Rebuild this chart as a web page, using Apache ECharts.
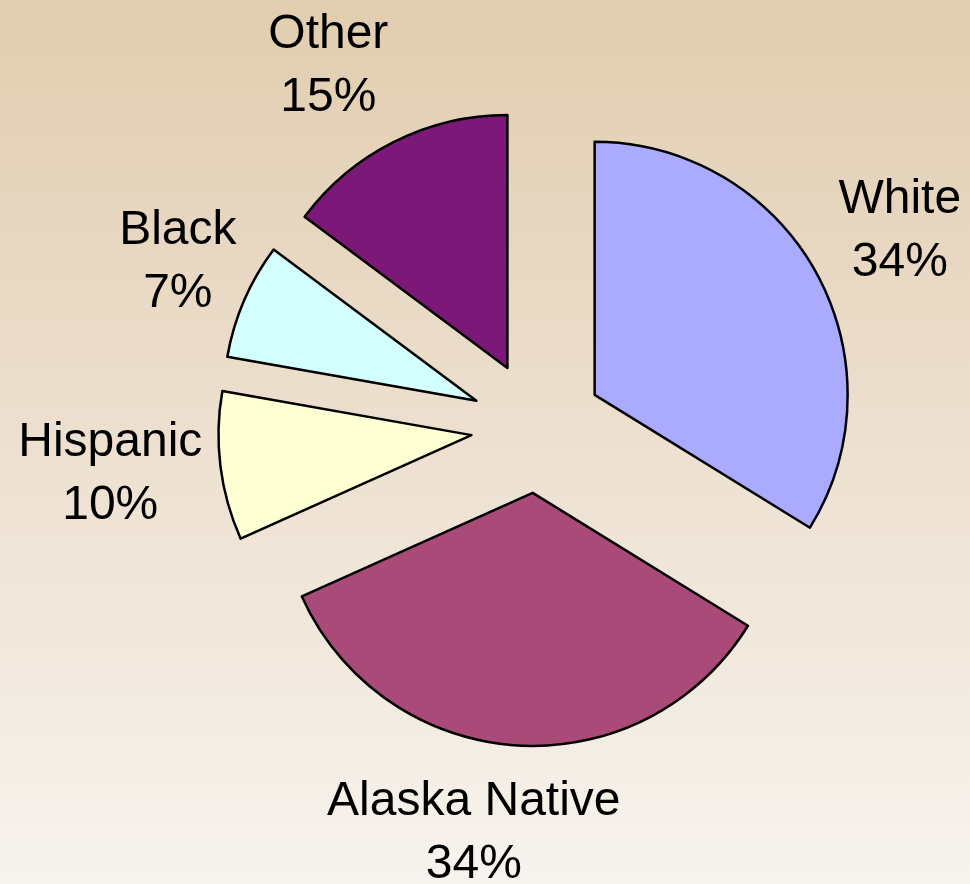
<!DOCTYPE html>
<html><head><meta charset="utf-8">
<script src="https://cdn.jsdelivr.net/npm/echarts@6/dist/echarts.min.js"></script>
<style>html,body{margin:0;padding:0;overflow:hidden;}#c{width:970px;height:884px;}</style>
</head><body><div id="c"></div>
<script>
const categories = ['White', 'Alaska Native', 'Hispanic', 'Black', 'Other'];
const values = [33.8, 34.49, 9.5, 7.41, 14.8];

const sliceColors = ['#AAAAFF', '#AA4A78', '#FFFFD4', '#D4FFFF', '#7B1878'];
const labelGap = [93, 80, 111, 81, 104];
const labelNudgeX = [3, -37, 0, 8, -19];
const labelNudgeY = [5, 8, -6, -6, 17];

const data = categories.map((name, i) => ({
  name: name,
  value: values[i],
  selected: true,
  itemStyle: { color: sliceColors[i] },
  labelLine: { show: false, length: labelGap[i], length2: 0 }
}));

const chart = echarts.init(document.getElementById('c'), null, { renderer: 'canvas' });
chart.setOption({
  animation: false,
  backgroundColor: {
    type: 'linear', x: 0, y: 0, x2: 0, y2: 1,
    colorStops: [
      { offset: 0, color: '#E1CDAF' },
      { offset: 0.5, color: '#EDE0D0' },
      { offset: 1, color: '#F7F3EE' }
    ]
  },
  series: [{
    type: 'pie',
    center: [537, 427],
    radius: 253,
    startAngle: 90,
    clockwise: true,
    selectedMode: 'multiple',
    selectedOffset: 66,
    avoidLabelOverlap: false,
    percentPrecision: 0,
    itemStyle: { borderColor: '#000000', borderWidth: 2.5 },
    select: { itemStyle: { borderColor: '#000000', borderWidth: 2.5 } },
    emphasis: { disabled: true },
    label: {
      show: true,
      position: 'outside',
      formatter: '{b}\n{d}%',
      fontFamily: 'Liberation Sans, Arial, sans-serif',
      fontSize: 48,
      lineHeight: 63,
      color: '#000000',
      distanceToLabelLine: 0
    },
    labelLine: { show: false },
    labelLayout: function (p) {
      return {
        align: 'center',
        verticalAlign: 'middle',
        dx: labelNudgeX[p.dataIndex],
        dy: labelNudgeY[p.dataIndex]
      };
    },
    data: data
  }]
});
</script>
</body></html>
